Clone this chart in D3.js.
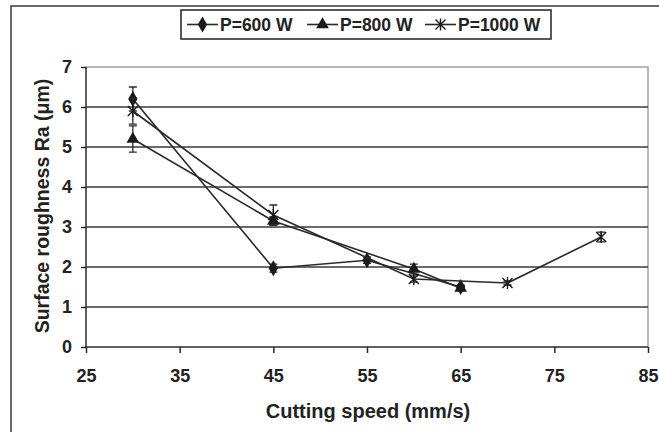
<!DOCTYPE html>
<html>
<head>
  <meta charset="utf-8">
  <script src="https://cdn.jsdelivr.net/npm/d3@7"></script>
  <style>
    body { margin: 0; background: #fff; }
    .tick text {
      font-family: "Liberation Sans", Arial, sans-serif;
      font-weight: bold;
      fill: #222;
    }
    .title {
      font-family: "Liberation Sans", Arial, sans-serif;
      font-weight: bold;
      fill: #222;
    }
    .series { fill: none; stroke: #2a2a2a; stroke-width: 1.6px; }
    .err { stroke: #2a2a2a; stroke-width: 1.3px; }
  </style>
</head>
<body>
<div id="chart"></div>
<script>
  // data
  var speeds600 = [30, 45, 55, 65];
  var ra600 = [6.2, 1.97, 2.17, 1.5];
  var err600 = [0.3, 0.1, 0.08, 0.05];

  var speeds800 = [30, 45, 60, 65];
  var ra800 = [5.2, 3.15, 1.95, 1.47];
  var err800 = [0.33, 0.1, 0.12, 0.06];

  var speeds1000 = [30, 45, 60, 70, 80];
  var ra1000 = [5.9, 3.3, 1.7, 1.6, 2.75];
  var err1000 = [0.33, 0.25, 0.08, 0.05, 0.12];

  var seriesNames = ["P=600 W", "P=800 W", "P=1000 W"];
  var xTicks = [25, 35, 45, 55, 65, 75, 85];
  var yTicks = [0, 1, 2, 3, 4, 5, 6, 7];

  var W = 659, H = 432;
  var svg = d3.select("#chart").append("svg")
      .attr("width", W).attr("height", H);

  // outer frame of the figure
  svg.append("rect")
      .attr("x", 11).attr("y", 6)
      .attr("width", 800).attr("height", 600)
      .attr("fill", "none")
      .attr("stroke", "#444")
      .attr("stroke-width", 1.6);

  var x = d3.scaleLinear().domain([25, 85]).range([86, 648]);
  var y = d3.scaleLinear().domain([0, 7]).range([347, 67]);

  // plot border (top & right in light grey)
  svg.append("path")
      .attr("d", "M" + x(25) + "," + y(7) + "H" + x(85) + "V" + y(0))
      .attr("fill", "none")
      .attr("stroke", "#a0a0a0")
      .attr("stroke-width", 1.5);

  // gridlines
  svg.append("g").selectAll("line")
      .data(yTicks.filter(function(d) { return d > 0 && d < 7; }))
      .enter().append("line")
      .attr("x1", x(25)).attr("x2", x(85))
      .attr("y1", function(d) { return y(d); })
      .attr("y2", function(d) { return y(d); })
      .attr("stroke", "#3a3a3a")
      .attr("stroke-width", 1.5);

  // axes
  var yAxis = svg.append("g")
      .attr("transform", "translate(" + x(25) + ",0)")
      .call(d3.axisLeft(y).tickValues(yTicks).tickSize(5).tickPadding(9).tickFormat(d3.format("d")));
  var xAxis = svg.append("g")
      .attr("transform", "translate(0," + y(0) + ")")
      .call(d3.axisBottom(x).tickValues(xTicks).tickSize(6).tickPadding(16).tickFormat(d3.format("d")));

  [yAxis, xAxis].forEach(function(a) {
    a.selectAll("path, line").attr("stroke", "#2a2a2a").attr("stroke-width", 1.5);
    a.select(".domain").attr("d", a === yAxis
        ? "M0," + y(0) + "V" + y(7)
        : "M" + x(25) + ",0H" + x(85));
    a.selectAll("text").attr("font-size", 18).attr("fill", "#222");
  });

  // axis titles
  svg.append("text")
      .attr("class", "title")
      .attr("x", 368).attr("y", 418)
      .attr("text-anchor", "middle")
      .attr("font-size", 20)
      .text("Cutting speed (mm/s)");

  svg.append("text")
      .attr("class", "title")
      .attr("transform", "translate(49,206) rotate(-90)")
      .attr("text-anchor", "middle")
      .attr("font-size", 19.5)
      .text("Surface roughness Ra (\u03bcm)");

  // marker shapes
  function diamond(g) {
    g.append("path").attr("d", d3.symbol(d3.symbolDiamond, 75)()).attr("fill", "#1a1a1a");
  }
  function triangle(g) {
    g.append("path").attr("d", d3.symbol(d3.symbolTriangle, 70)()).attr("fill", "#1a1a1a");
  }
  function star(g) {
    g.append("path").attr("d", "M0,-6V6M-5,-5L5,5M-5,5L5,-5")
        .attr("stroke", "#1a1a1a").attr("stroke-width", 1.4).attr("fill", "none");
  }

  var series = [
    { xs: speeds600, ys: ra600, es: err600, mark: diamond },
    { xs: speeds800, ys: ra800, es: err800, mark: triangle },
    { xs: speeds1000, ys: ra1000, es: err1000, mark: star }
  ];

  var line = d3.line()
      .x(function(d) { return x(d[0]); })
      .y(function(d) { return y(d[1]); });

  series.forEach(function(s) {
    var pts = s.xs.map(function(v, i) { return [v, s.ys[i], s.es[i]]; });
    var g = svg.append("g");
    g.append("path").attr("class", "series").attr("d", line(pts));

    // error bars
    pts.forEach(function(p) {
      var cx = x(p[0]), top = y(p[1] + p[2]), bot = y(p[1] - p[2]);
      g.append("path")
          .attr("class", "err")
          .attr("fill", "none")
          .attr("d", "M" + cx + "," + top + "V" + bot +
                     "M" + (cx - 4) + "," + top + "H" + (cx + 4) +
                     "M" + (cx - 4) + "," + bot + "H" + (cx + 4));
    });

    pts.forEach(function(p) {
      var m = g.append("g").attr("transform", "translate(" + x(p[0]) + "," + y(p[1]) + ")");
      s.mark(m);
    });
  });

  // legend
  var leg = svg.append("g");
  leg.append("rect")
      .attr("x", 181).attr("y", 10)
      .attr("width", 370).attr("height", 29)
      .attr("fill", "#fff")
      .attr("stroke", "#222")
      .attr("stroke-width", 1.5);

  var legX = [187, 307, 425];
  series.forEach(function(s, i) {
    var lx = legX[i];
    leg.append("line")
        .attr("x1", lx).attr("x2", lx + 31)
        .attr("y1", 24.5).attr("y2", 24.5)
        .attr("stroke", "#2a2a2a").attr("stroke-width", 1.6);
    s.mark(leg.append("g").attr("transform", "translate(" + (lx + 15.5) + ",24.5)"));
    leg.append("text")
        .attr("class", "title")
        .attr("x", lx + 33).attr("y", 30.5)
        .attr("font-size", 17.5)
        .text(seriesNames[i]);
  });
</script>
</body>
</html>
